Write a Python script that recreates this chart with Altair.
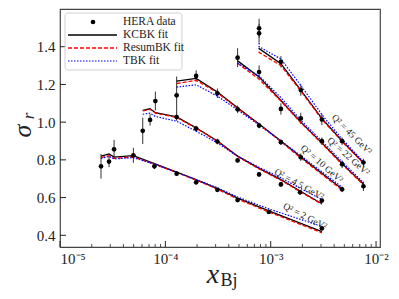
import altair as alt
import pandas as pd

# ---------------- data ----------------
Q2_VALUES = [2, 4.5, 10, 22, 45]

X_Q2_2 = [2.45e-5, 2.92e-5, 3.26e-5, 4.97e-5, 7.87e-5, 1.28e-4, 1.96e-4, 3.12e-4, 4.85e-4, 9.6e-4, 3.06e-3]
Y_Q2_2 = [0.766, 0.791, 0.856, 0.824, 0.766, 0.727, 0.681, 0.641, 0.587, 0.524, 0.437]
E_Q2_2 = [0.065, 0.03, 0.05, 0.04, 0.015, 0.012, 0.012, 0.01, 0.01, 0.01, 0.012]
KCBK_Q2_2 = [0.820, 0.832, 0.815, 0.822, 0.780, 0.735, 0.695, 0.648, 0.597, 0.530, 0.420]
RBK_Q2_2 = [0.812, 0.822, 0.808, 0.815, 0.777, 0.733, 0.693, 0.645, 0.592, 0.524, 0.413]
TBK_Q2_2 = [0.808, 0.818, 0.805, 0.812, 0.778, 0.733, 0.695, 0.652, 0.603, 0.540, 0.447]

X_Q2_45a = [6.1e-5, 7.16e-5, 8.04e-5, 1.28e-4, 1.96e-4, 3.12e-4, 4.85e-4, 7.76e-4, 1.25e-3, 1.9e-3, 3.06e-3]
Y_Q2_45a = [0.954, 1.012, 1.112, 1.027, 0.966, 0.897, 0.797, 0.723, 0.670, 0.628, 0.584]
E_Q2_45a = [0.07, 0.03, 0.05, 0.02, 0.015, 0.015, 0.012, 0.012, 0.012, 0.012, 0.012]
KCBK_Q2_45a = [1.062, 1.071, 1.050, 1.028, 0.970, 0.900, 0.820, 0.755, 0.695, 0.635, 0.567]
RBK_Q2_45a = [1.060, 1.068, 1.048, 1.025, 0.968, 0.898, 0.818, 0.752, 0.692, 0.632, 0.565]
TBK_Q2_45a = [1.042, 1.048, 1.030, 1.005, 0.952, 0.890, 0.820, 0.760, 0.705, 0.650, 0.590]

X_Q2_10 = [1.28e-4, 1.96e-4, 3.12e-4, 4.85e-4, 7.76e-4, 1.25e-3, 1.93e-3, 4.76e-3]
Y_Q2_10 = [1.142, 1.245, 1.153, 1.068, 0.982, 0.894, 0.814, 0.644]
E_Q2_10 = [0.10, 0.03, 0.025, 0.02, 0.015, 0.015, 0.02, 0.015]
KCBK_Q2_10 = [1.218, 1.232, 1.160, 1.076, 0.990, 0.900, 0.815, 0.645]
RBK_Q2_10 = [1.205, 1.222, 1.156, 1.073, 0.988, 0.897, 0.810, 0.640]
TBK_Q2_10 = [1.186, 1.198, 1.138, 1.065, 0.985, 0.900, 0.822, 0.655]

X_Q2_22 = [4.85e-4, 7.76e-4, 1.25e-3, 1.93e-3, 3.06e-3, 4.76e-3, 7.59e-3]
Y_Q2_22 = [1.342, 1.266, 1.070, 1.020, 0.899, 0.777, 0.660]
E_Q2_22 = [0.05, 0.035, 0.03, 0.03, 0.02, 0.02, 0.025]
KCBK_Q2_22 = [1.325, 1.240, 1.115, 1.000, 0.890, 0.780, 0.672]
RBK_Q2_22 = [1.312, 1.228, 1.112, 0.997, 0.886, 0.776, 0.668]
TBK_Q2_22 = [1.312, 1.245, 1.130, 1.010, 0.900, 0.790, 0.680]

X_Q2_45 = [7.76e-4, 7.76e-4, 1.25e-3, 1.93e-3, 3.06e-3, 4.76e-3, 7.59e-3]
Y_Q2_45 = [1.498, 1.471, 1.320, 1.170, 1.014, 0.899, 0.786]
E_Q2_45 = [0.05, 0.05, 0.03, 0.03, 0.03, 0.02, 0.02]
KCBK_Q2_45 = [1.395, 1.390, 1.310, 1.170, 1.020, 0.900, 0.785]
RBK_Q2_45 = [1.375, 1.370, 1.300, 1.165, 1.015, 0.897, 0.782]
TBK_Q2_45 = [1.420, 1.400, 1.335, 1.195, 1.040, 0.910, 0.790]

SERIES = [
    (2, X_Q2_2, Y_Q2_2, E_Q2_2, KCBK_Q2_2, RBK_Q2_2, TBK_Q2_2),
    (4.5, X_Q2_45a, Y_Q2_45a, E_Q2_45a, KCBK_Q2_45a, RBK_Q2_45a, TBK_Q2_45a),
    (10, X_Q2_10, Y_Q2_10, E_Q2_10, KCBK_Q2_10, RBK_Q2_10, TBK_Q2_10),
    (22, X_Q2_22, Y_Q2_22, E_Q2_22, KCBK_Q2_22, RBK_Q2_22, TBK_Q2_22),
    (45, X_Q2_45, Y_Q2_45, E_Q2_45, KCBK_Q2_45, RBK_Q2_45, TBK_Q2_45),
]

# Q^2 labels (text, x, y, angle)
LABEL_TEXT = ["Q² = 2 GeV²", "Q² = 4.5 GeV²", "Q² = 10 GeV²", "Q² = 22 GeV²", "Q² = 45 GeV²"]
LABEL_X = [2.12e-3, 1.86e-3, 3.06e-3, 5.47e-3, 5.9e-3]
LABEL_Y = [0.501, 0.671, 0.779, 0.819, 0.935]
LABEL_ANGLE = [27, 29, 41, 41, 45]

X_MAJOR = [1e-5, 1e-4, 1e-3, 1e-2]
X_MINOR = [m * d for d in (1e-5, 1e-4, 1e-3) for m in range(2, 10)]
Y_TICKS = [0.4, 0.6, 0.8, 1.0, 1.2, 1.4]

# ---------------- build tables ----------------
rows = []
for q2, xs, ys, es, k, r, t in SERIES:
    for i, (x, y, e) in enumerate(zip(xs, ys, es)):
        rows.append(dict(q2=q2, idx=i, x=x, y=y, lo=y - e, hi=y + e,
                         kcbk=k[i], rbk=r[i], tbk=t[i]))
df = pd.DataFrame(rows)

W, H = 320, 238
XD = [1e-5, 1.09e-2]
YD = [0.338, 1.6]
xs = alt.Scale(type="log", domain=XD, nice=False)
ys = alt.Scale(domain=YD, nice=False, zero=False)
SERIF = "Liberation Serif"

xenc = alt.X("x:Q", scale=xs, axis=alt.Axis(
    values=X_MAJOR, ticks=False, grid=False, domain=False, title=None,
    labelFont=SERIF, labelFontSize=15, labelColor="#222", labelPadding=4,
    labelExpr="datum.value < 5e-5 ? '10⁻⁵' : datum.value < 5e-4 ? '10⁻⁴' : datum.value < 5e-3 ? '10⁻³' : '10⁻²'"))
yenc = alt.Y("y:Q", scale=ys, axis=alt.Axis(
    values=Y_TICKS, ticks=False, grid=False, domain=False, title=None, format=".1f",
    labelFont=SERIF, labelFontSize=15, labelColor="#222", labelPadding=5))

base = alt.Chart(df)

errbars = base.mark_rule(color="#333", strokeWidth=1).encode(
    x=alt.X("x:Q", scale=xs), y=alt.Y("lo:Q", scale=ys), y2="hi:Q")

def model_line(field, color, dash, width):
    kw = dict(color=color, strokeWidth=width)
    if dash:
        kw["strokeDash"] = dash
    return base.mark_line(**kw).encode(
        x=alt.X("x:Q", scale=xs), y=alt.Y(f"{field}:Q", scale=ys),
        detail="q2:N", order="idx:Q")

kcbk = model_line("kcbk", "black", None, 1.3)
rbk = model_line("rbk", "#ff0000", [4, 2], 1.3)
tbk = model_line("tbk", "#0000ff", [1.5, 1.5], 1.2)

points = base.mark_circle(color="black", opacity=1, size=22).encode(x=xenc, y=yenc)

lab_df = pd.DataFrame(dict(t=LABEL_TEXT, x=LABEL_X, y=LABEL_Y, a=LABEL_ANGLE))
labels = alt.layer(*[
    alt.Chart(lab_df.iloc[[i]]).mark_text(font=SERIF, fontSize=9.5, color="#222",
                                          angle=LABEL_ANGLE[i], align="center", baseline="middle").encode(
        x=alt.X("x:Q", scale=xs), y=alt.Y("y:Q", scale=ys), text="t:N")
    for i in range(len(LABEL_TEXT))
])

# inward ticks
xmaj = alt.Chart(pd.DataFrame({"x": X_MAJOR})).mark_rule(color="#222", strokeWidth=1).encode(
    x=alt.X("x:Q", scale=xs), y=alt.value(H), y2=alt.value(H - 6))
xmin = alt.Chart(pd.DataFrame({"x": X_MINOR})).mark_rule(color="#222", strokeWidth=0.8).encode(
    x=alt.X("x:Q", scale=xs), y=alt.value(H), y2=alt.value(H - 3))
ytk = alt.Chart(pd.DataFrame({"y": Y_TICKS})).mark_rule(color="#222", strokeWidth=1).encode(
    y=alt.Y("y:Q", scale=ys), x=alt.value(0), x2=alt.value(6))

# legend
one = pd.DataFrame({"a": [0]})
leg_box = alt.Chart(one).mark_rect(fill="white", stroke="#cccccc", strokeWidth=1, cornerRadius=3, opacity=0.9).encode(
    x=alt.value(5), x2=alt.value(122), y=alt.value(4), y2=alt.value(61))
leg_pt = alt.Chart(one).mark_circle(color="black", size=22, opacity=1).encode(x=alt.value(33), y=alt.value(13))
leg_k = alt.Chart(one).mark_rule(color="black", strokeWidth=1.3).encode(
    x=alt.value(8), x2=alt.value(57), y=alt.value(26))
leg_r = alt.Chart(one).mark_rule(color="#ff0000", strokeWidth=1.3, strokeDash=[4, 2]).encode(
    x=alt.value(8), x2=alt.value(57), y=alt.value(39))
leg_t = alt.Chart(one).mark_rule(color="#0000ff", strokeWidth=1.2, strokeDash=[1.5, 1.5]).encode(
    x=alt.value(8), x2=alt.value(57), y=alt.value(52))
LEG_TEXT = ["HERA data", "KCBK fit", "ResumBK fit", "TBK fit"]
LEG_Y = [13, 26, 39, 52]
leg_txt = alt.layer(*[
    alt.Chart(one).mark_text(text=LEG_TEXT[i], font=SERIF, fontSize=11.5, color="#222",
                             align="left", baseline="middle").encode(x=alt.value(63), y=alt.value(LEG_Y[i]))
    for i in range(4)
])

# axis titles
ttl = alt.layer(
    alt.Chart(one).mark_text(text="σ", font=SERIF, fontStyle="italic", fontSize=26, color="#222",
                             angle=270, align="center", baseline="middle").encode(x=alt.value(-37), y=alt.value(122)),
    alt.Chart(one).mark_text(text="r", font=SERIF, fontStyle="italic", fontSize=17, color="#222",
                             angle=270, align="center", baseline="middle").encode(x=alt.value(-31), y=alt.value(107)),
    alt.Chart(one).mark_text(text="x", font=SERIF, fontStyle="italic", fontSize=28, color="#222",
                             align="center", baseline="middle").encode(x=alt.value(153), y=alt.value(266)),
    alt.Chart(one).mark_text(text="Bj", font=SERIF, fontSize=18, color="#222",
                             align="center", baseline="middle").encode(x=alt.value(169), y=alt.value(272)),
)

chart = alt.layer(
    errbars, kcbk, rbk, tbk, points, labels, xmaj, xmin, ytk,
    leg_box, leg_pt, leg_k, leg_r, leg_t, leg_txt, ttl,
).properties(
    width=W, height=H,
    autosize=alt.AutoSizeParams(type="none"),
    padding={"left": 52, "top": 1, "right": 11, "bottom": 45},
).configure_view(stroke="#444", strokeWidth=1.2)

chart.save("out.html", embed_options={"renderer": "svg", "actions": False})
